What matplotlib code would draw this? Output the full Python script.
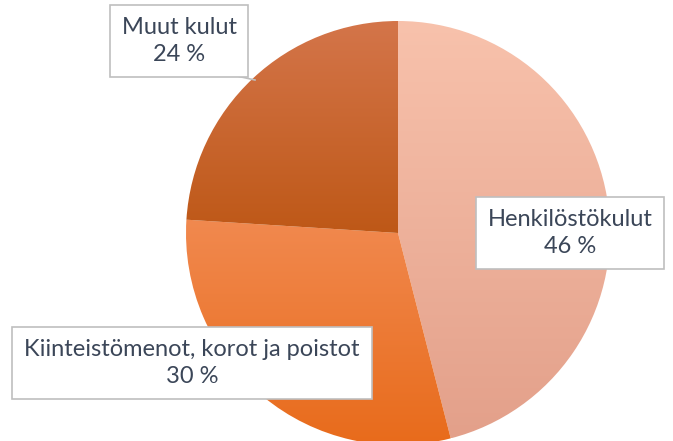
import matplotlib.pyplot as plt
import numpy as np
from matplotlib.colors import LinearSegmentedColormap
from matplotlib.patches import Wedge

labels = ["Henkilöstökulut", "Kiinteistömenot, korot ja poistot", "Muut kulut"]
shares = [46, 30, 24]
# (top colour, bottom colour) for each slice gradient
gradients = [("#F8C2AC", "#E3A08A"), ("#F1894F", "#E86B1B"), ("#D4754A", "#BE5817")]
label_pos = [(570, 233), (192, 363), (179, 41)]
text_color = "#3B4658"

W, H = 673, 441
cx, cy, r = 398, 233, 212

fig = plt.figure(figsize=(W / 100, H / 100), dpi=100)
ax = fig.add_axes([0, 0, 1, 1])
ax.set_xlim(0, W)
ax.set_ylim(H, 0)
ax.axis("off")

# slices run clockwise from 12 o'clock; y axis is inverted so angles go clockwise too
start = -90.0
for share, (top, bottom) in zip(shares, gradients):
    sweep = share / 100 * 360
    wedge = Wedge((cx, cy), r, start, start + sweep, facecolor="none", edgecolor="none")
    ax.add_patch(wedge)
    ang = np.radians(np.linspace(start, start + sweep, 200))
    ys = np.concatenate([[cy], cy + r * np.sin(ang)])
    y0, y1 = ys.min(), ys.max()
    cmap = LinearSegmentedColormap.from_list("g", [top, bottom])
    grad = np.linspace(0, 1, 256).reshape(-1, 1)
    im = ax.imshow(grad, cmap=cmap, aspect="auto", extent=(cx - r, cx + r, y1, y0),
                   interpolation="bilinear")
    im.set_clip_path(wedge)
    start += sweep

ax.set_xlim(0, W)
ax.set_ylim(H, 0)

# leader line for the small label
ax.plot([223, 255], [73, 80], color="#BFBFBF", lw=1.2)

for (x, y), lab, val in zip(label_pos, labels, shares):
    ax.text(x, y, f"{lab}\n{val} %", ha="center", va="center", fontsize=17,
            family="Lato", color=text_color, linespacing=1.4,
            bbox=dict(boxstyle="square,pad=0.5", fc="white", ec="#BFBFBF", lw=1.2))

fig.savefig("out.png", dpi=100)
